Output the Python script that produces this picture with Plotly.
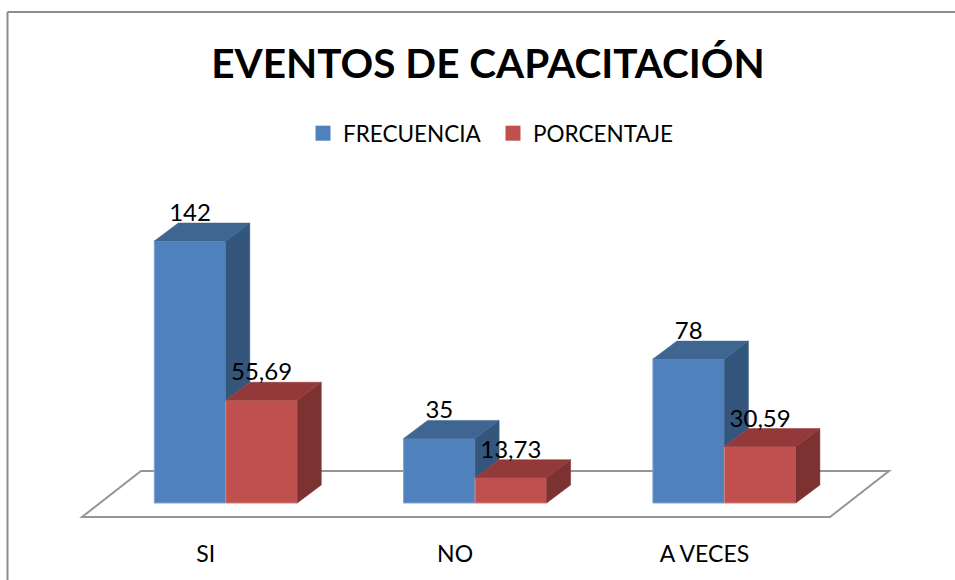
import plotly.graph_objects as go

# Data
categories = ["SI", "NO", "A VECES"]
frecuencia = [142, 35, 78]
porcentaje = [55.69, 13.73, 30.59]
frecuencia_labels = ["142", "35", "78"]
porcentaje_labels = ["55,69", "13,73", "30,59"]

# Pseudo-3D styling (in axis units)
W, H = 955, 580
PX_X = 249.3          # px per category
PX_Y = 1.845          # px per value unit
BASE_PX = 503         # baseline row
BOTTOM_PX = 538       # bottom of plot area
BAR = 71.5 / PX_X
DX = 24 / PX_X
DY = 18 / PX_Y
LABEL_DROP = 4 / PX_Y
TICK_SHIFT = 20 / PX_X
x0_px = 225.8
FONT = "Lato, Carlito, Calibri, sans-serif"

xr = [-x0_px / PX_X, (W - x0_px) / PX_X]
yr = [(BASE_PX - BOTTOM_PX) / PX_Y, BASE_PX / PX_Y]

pos = list(range(len(categories)))
fig = go.Figure()

# front faces as bars
for name, vals, off, col, edge in [
    ("FRECUENCIA", frecuencia, -BAR, "#4F81BD", "#7FA3D0"),
    ("PORCENTAJE", porcentaje, 0, "#C0504D", "#D07F7D"),
]:
    fig.add_trace(go.Bar(x=pos, y=vals, width=BAR, offset=off, name=name, showlegend=False,
                         marker=dict(color=col, line=dict(color=edge, width=1))))

def poly(xs, ys, col):
    fig.add_trace(go.Scatter(x=xs, y=ys, mode="lines", fill="toself", fillcolor=col,
                             line=dict(color=col, width=0.5), hoverinfo="skip", showlegend=False))

for p, f, r in zip(pos, frecuencia, porcentaje):
    # blue side (the part not hidden by the red bar) and top
    poly([p, p + DX, p + DX, p, p], [r, r + DY, f + DY, f, r], "#34557C")
    poly([p - BAR, p - BAR + DX, p + DX, p, p - BAR], [f, f + DY, f + DY, f, f], "#3F6591")
    # red side and top
    poly([p + BAR, p + BAR + DX, p + BAR + DX, p + BAR, p + BAR], [0, DY, r + DY, r, 0], "#7C3230")
    poly([p, p + DX, p + BAR + DX, p + BAR, p], [r, r + DY, r + DY, r, r], "#93393A")

# value labels
fig.add_trace(go.Scatter(x=[p - BAR / 2 for p in pos], y=[v + DY - LABEL_DROP for v in frecuencia], mode="text",
                         text=frecuencia_labels, textposition="top center",
                         textfont=dict(family=FONT, size=24, color="black"),
                         hoverinfo="skip", showlegend=False))
fig.add_trace(go.Scatter(x=[p + BAR / 2 for p in pos], y=[v + DY - LABEL_DROP for v in porcentaje], mode="text",
                         text=porcentaje_labels, textposition="top center",
                         textfont=dict(family=FONT, size=24, color="black"),
                         hoverinfo="skip", showlegend=False))

# legend entries
for name, col in [("FRECUENCIA", "#4F81BD"), ("PORCENTAJE", "#C0504D")]:
    fig.add_trace(go.Scatter(x=[None], y=[None], mode="markers", name=name,
                             marker=dict(symbol="square", size=15, color=col)))

# floor
fx = [(82 - x0_px) / PX_X, (830 - x0_px) / PX_X, (889 - x0_px) / PX_X, (141 - x0_px) / PX_X]
fy = [(BASE_PX - 517) / PX_Y, (BASE_PX - 517) / PX_Y, (BASE_PX - 471) / PX_Y, (BASE_PX - 471) / PX_Y]
path = f"M{fx[0]},{fy[0]} L{fx[1]},{fy[1]} L{fx[2]},{fy[2]} L{fx[3]},{fy[3]} Z"
fig.add_shape(type="path", path=path, xref="x", yref="y", layer="below",
              line=dict(color="#969696", width=2), fillcolor="white")

# chart frame
frame_col = "#8C8C8C"
fig.add_shape(type="line", xref="paper", yref="paper", x0=7.5 / W, x1=7.5 / W,
              y0=(BOTTOM_PX - H) / BOTTOM_PX, y1=(BOTTOM_PX - 12) / BOTTOM_PX,
              line=dict(color=frame_col, width=2))
fig.add_shape(type="line", xref="paper", yref="paper", x0=7.5 / W, x1=1,
              y0=(BOTTOM_PX - 12) / BOTTOM_PX, y1=(BOTTOM_PX - 12) / BOTTOM_PX,
              line=dict(color=frame_col, width=2))

fig.update_layout(
    width=W, height=H, barmode="overlay",
    margin=dict(l=0, r=0, t=0, b=H - BOTTOM_PX),
    paper_bgcolor="white", plot_bgcolor="rgba(0,0,0,0)",
    title=dict(text="<b>EVENTOS DE CAPACITACIÓN</b>", x=488 / W, xanchor="center",
               y=1 - 64 / H, yanchor="middle", font=dict(family=FONT, size=40.5, color="black")),
    legend=dict(orientation="h", x=303 / W, xanchor="left", y=1 - 144 / H, yanchor="middle",
                font=dict(family=FONT, size=22.5, color="black"), entrywidth=145,
                entrywidthmode="pixels", bgcolor="rgba(0,0,0,0)"),
    xaxis=dict(range=xr, tickvals=[p - TICK_SHIFT for p in pos], ticktext=categories, showgrid=False,
               zeroline=False, showline=False, ticks="",
               tickfont=dict(family=FONT, size=23, color="black")),
    yaxis=dict(range=yr, visible=False, showgrid=False, zeroline=False),
    font=dict(family=FONT),
)
fig.write_html("out.html", config={"displayModeBar": False},
               post_script="document.body.style.margin='0';")
